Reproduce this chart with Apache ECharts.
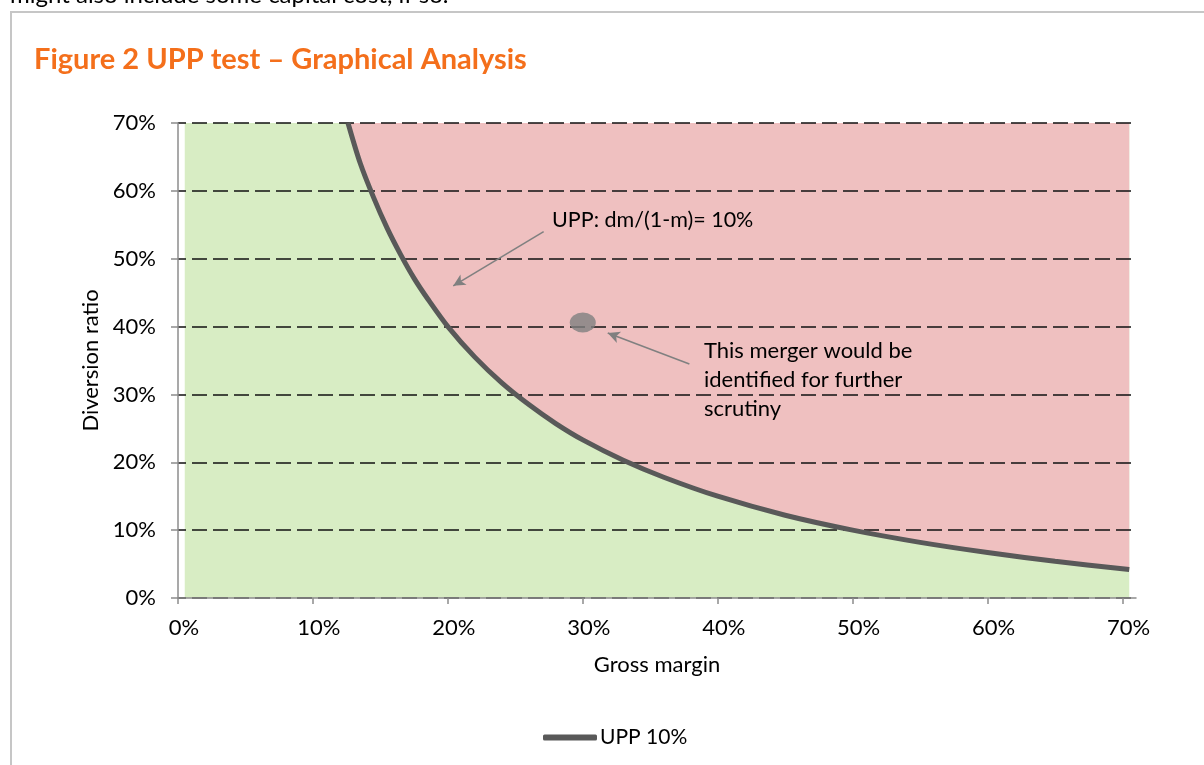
<!DOCTYPE html>
<html>
<head>
<meta charset="utf-8">
<script src="https://cdn.jsdelivr.net/npm/echarts@6/dist/echarts.min.js"></script>
<style>
html, body { margin: 0; padding: 0; background: #fff; }
#main { width: 1204px; height: 765px; }
</style>
</head>
<body>
<div id="main"></div>
<script>
// gross margin (x) / diversion ratio (y)
var marginVals = [0.126, 0.135, 0.145, 0.155, 0.165, 0.175, 0.185, 0.200, 0.22, 0.24, 0.26, 0.28, 0.30,
	0.33, 0.36, 0.40, 0.45, 0.50, 0.55, 0.60, 0.65, 0.705];
var diversionVals = [0.700, 0.641, 0.590, 0.545, 0.506, 0.471, 0.441, 0.400, 0.355, 0.317, 0.285, 0.257, 0.233,
	0.203, 0.178, 0.150, 0.122, 0.100, 0.082, 0.067, 0.054, 0.042];
// green zone spans the whole plot width up to 70%
var zoneX = [0.005, 0.705];
var zoneTop = 0.70;
// the example merger
var mergerPoint = [0.30, 0.406];
// annotation arrows [from, to]
var arrowUpp = [[0.271, 0.540], [0.204, 0.460]];
var arrowMerger = [[0.379, 0.345], [0.3185, 0.3905]];
var xTicks = [0, 0.1, 0.2, 0.3, 0.4, 0.5, 0.6, 0.7];

var FONT = 'Lato';
var chart = echarts.init(document.getElementById('main'));

var curveData = [];
for (var i = 0; i < marginVals.length; i++) {
	curveData.push([marginVals[i], diversionVals[i]]);
}
var zoneData = [[zoneX[0], zoneTop], [zoneX[1], zoneTop]];

function pct(v) {
	return Math.round(v * 100) + '%';
}

var option = {
	backgroundColor: '#fff',
	animation: false,
	textStyle: { fontFamily: FONT },
	title: {
		text: 'Figure 2 UPP test \u2013 Graphical Analysis',
		left: 29,
		top: 40,
		textStyle: { color: '#F46F1B', fontSize: 29, fontWeight: 'bold', fontFamily: FONT }
	},
	legend: {
		data: [{ name: 'UPP 10%', icon: 'roundRect' }],
		left: 543,
		top: 727,
		padding: 0,
		itemWidth: 54,
		itemHeight: 6,
		itemGap: 4,
		textStyle: { color: '#000', fontSize: 21, fontFamily: FONT, padding: [0, 0, 0, -2] }
	},
	grid: { left: 178, right: 68, top: 123, bottom: 167 },
	xAxis: {
		type: 'value',
		min: 0,
		max: 0.71,
		z: 2,
		name: 'Gross margin',
		nameLocation: 'middle',
		nameGap: 56,
		nameTextStyle: { color: '#000', fontSize: 22, fontFamily: FONT },
		axisLine: { show: true, onZero: false, lineStyle: { color: '#8c8c8c', width: 1.5 } },
		axisTick: { show: true, customValues: xTicks, length: 6, lineStyle: { color: '#8c8c8c', width: 1.5 } },
		axisLabel: {
			customValues: xTicks,
			formatter: pct,
			color: '#000',
			fontSize: 22,
			fontFamily: FONT,
			margin: 19,
			padding: [0, 0, 0, 12]
		},
		splitLine: { show: false }
	},
	yAxis: {
		type: 'value',
		min: 0,
		max: 0.7,
		interval: 0.1,
		z: 2,
		name: 'Diversion ratio',
		nameLocation: 'middle',
		nameGap: 73,
		nameTextStyle: { color: '#000', fontSize: 22, fontFamily: FONT },
		axisLine: { show: true, onZero: false, lineStyle: { color: '#8c8c8c', width: 1.5 } },
		axisTick: { show: true, length: 7, lineStyle: { color: '#8c8c8c', width: 1.5 } },
		axisLabel: { formatter: pct, color: '#000', fontSize: 22, fontFamily: FONT, margin: 22 },
		splitLine: {
			show: true,
			lineStyle: { color: '#111', width: 1.6, type: [15, 6], dashOffset: 7 }
		}
	},
	series: [
		{
			name: 'zone-green',
			type: 'line',
			z: 1,
			silent: true,
			symbol: 'none',
			data: zoneData,
			lineStyle: { width: 0 },
			areaStyle: { color: '#D8EDC4', opacity: 1, origin: 'start' }
		},
		{
			name: 'zone-red',
			type: 'line',
			z: 1,
			silent: true,
			symbol: 'none',
			smooth: 0.3,
			data: curveData,
			lineStyle: { width: 0 },
			areaStyle: { color: '#EFC0C0', opacity: 1, origin: 'end' }
		},
		{
			name: 'UPP 10%',
			type: 'line',
			z: 5,
			symbol: 'none',
			smooth: 0.3,
			data: curveData,
			color: '#595959',
			lineStyle: { color: '#595959', width: 5 }
		},
		{
			name: 'merger',
			type: 'scatter',
			z: 6,
			symbol: 'circle',
			symbolSize: [26, 20],
			itemStyle: { color: '#808080' },
			data: [mergerPoint],
			markLine: {
				silent: true,
				symbol: ['none', 'arrow'],
				symbolSize: [9, 12],
				label: { show: false },
				lineStyle: { color: '#808080', width: 1.6, type: 'solid' },
				data: [
					[{ coord: arrowUpp[0] }, { coord: arrowUpp[1] }],
					[{ coord: arrowMerger[0] }, { coord: arrowMerger[1] }]
				]
			}
		}
	],
	graphic: [
		{
			type: 'text',
			left: 10,
			top: -17,
			style: { text: 'might also include some capital cost, if so.', fill: '#000', fontSize: 24, fontFamily: FONT }
		},
		{
			type: 'rect',
			shape: { x: 11, y: 12, width: 1300, height: 900 },
			style: { fill: '#fff', stroke: '#c6c6c6', lineWidth: 2 },
			z: -10,
			silent: true
		},
		{
			type: 'text',
			left: 552,
			top: 209,
			z: 10,
			style: { text: 'UPP: dm/(1-m)= 10%', fill: '#000', fontSize: 21.5, fontFamily: FONT }
		},
		{
			type: 'text',
			left: 704,
			top: 336,
			z: 10,
			style: {
				text: 'This merger would be\nidentified for further\nscrutiny',
				fill: '#000',
				fontSize: 22,
				lineHeight: 29,
				fontFamily: FONT
			}
		}
	]
};
chart.setOption(option);
</script>
</body>
</html>
